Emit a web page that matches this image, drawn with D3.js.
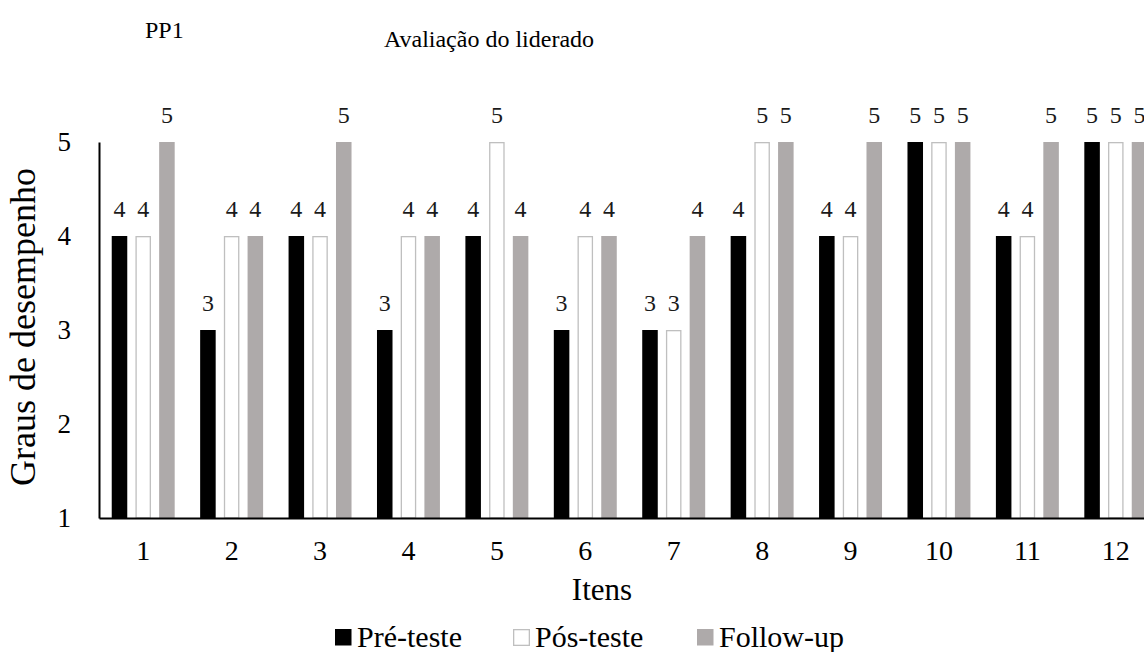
<!DOCTYPE html>
<html>
<head>
<meta charset="utf-8">
<script src="https://cdn.jsdelivr.net/npm/d3@7"></script>
<style>
  html, body { margin: 0; padding: 0; background: #fff; }
  svg { display: block; }
  svg text { font-family: "Liberation Serif", serif; }
</style>
</head>
<body>
<svg id="chart" width="1144" height="652" font-family="Liberation Serif"></svg>
<script>
// Item numbers along the x axis
const items = ["1", "2", "3", "4", "5", "6", "7", "8", "9", "10", "11", "12"];
// Scores per phase
const preTeste  = [4, 3, 4, 3, 4, 3, 3, 4, 4, 5, 4, 5];
const posTeste  = [4, 4, 4, 4, 5, 4, 3, 5, 4, 5, 4, 5];
const followUp  = [5, 4, 5, 4, 4, 4, 4, 5, 5, 5, 5, 5];
const seriesNames = ["Pré-teste", "Pós-teste", "Follow-up"];
const yTicks = [1, 2, 3, 4, 5];

const series = [
  { name: seriesNames[0], values: preTeste, fill: "#000000", stroke: "none" },
  { name: seriesNames[1], values: posTeste, fill: "#ffffff", stroke: "#bfbfbf" },
  { name: seriesNames[2], values: followUp, fill: "#aeaaaa", stroke: "none" }
];

const FONT = "Liberation Serif";
const svg = d3.select("#chart");
const plot = { left: 99, right: 1160, top: 142, bottom: 518 };

const x = d3.scaleBand().domain(items).range([plot.left, plot.right])
  .paddingInner(0.288).paddingOuter(0.144);
const xs = d3.scaleBand().domain(seriesNames).range([0, x.bandwidth()]).paddingInner(0.345);
const y = d3.scaleLinear().domain([1, 5]).range([plot.bottom, plot.top]);

// Bars
const groups = svg.append("g").selectAll("g")
  .data(series).join("g");

groups.selectAll("rect")
  .data(s => s.values.map((v, i) => ({ v, item: items[i], s })))
  .join("rect")
  .attr("x", d => x(d.item) + xs(d.s.name) + (d.s.stroke !== "none" ? 0.65 : 0))
  .attr("y", d => y(d.v) + (d.s.stroke !== "none" ? 0.65 : 0))
  .attr("width", d => xs.bandwidth() - (d.s.stroke !== "none" ? 1.3 : 0))
  .attr("height", d => y(1) - y(d.v) - (d.s.stroke !== "none" ? 0.65 : 0))
  .attr("fill", d => d.s.fill)
  .attr("stroke", d => d.s.stroke)
  .attr("stroke-width", 1.3);

// Value labels above bars
groups.selectAll("text")
  .data(s => s.values.map((v, i) => ({ v, item: items[i], s })))
  .join("text")
  .attr("x", d => x(d.item) + xs(d.s.name) + xs.bandwidth() / 2)
  .attr("y", d => y(d.v) - 19)
  .attr("text-anchor", "middle")
  .attr("font-family", FONT)
  .attr("font-size", 24)
  .attr("fill", "#1a1a1a")
  .text(d => d.v);

// Y axis
const yAxis = d3.axisLeft(y).tickValues(yTicks).tickSize(0).tickPadding(28).tickFormat(d3.format("d"));
const gy = svg.append("g").attr("transform", `translate(${plot.left},0)`).call(yAxis);
gy.attr("font-family", FONT);
gy.select(".domain").attr("stroke", "#000").attr("stroke-width", 2);
gy.selectAll("text").attr("font-size", 27).attr("font-family", FONT).attr("fill", "#000");

// X axis
const xAxis = d3.axisBottom(x).tickSize(0).tickPadding(22);
const gx = svg.append("g").attr("transform", `translate(0,${plot.bottom})`).call(xAxis);
gx.attr("font-family", FONT);
gx.select(".domain").attr("stroke", "#000").attr("stroke-width", 2);
gx.selectAll("text").attr("font-size", 28).attr("font-family", FONT).attr("fill", "#000");

// Titles
svg.append("text").attr("x", 145).attr("y", 38).attr("font-family", FONT)
  .attr("font-size", 24).text("PP1");
svg.append("text").attr("x", 489).attr("y", 47).attr("text-anchor", "middle")
  .attr("font-family", FONT).attr("font-size", 24).text("Avaliação do liderado");
svg.append("text").attr("x", 602).attr("y", 600).attr("text-anchor", "middle")
  .attr("font-family", FONT).attr("font-size", 31).text("Itens");
svg.append("text")
  .attr("transform", "translate(35,327) rotate(-90)")
  .attr("text-anchor", "middle")
  .attr("font-family", FONT)
  .attr("font-size", 36)
  .text("Graus de desempenho");

// Legend
const legendPos = [335, 513, 697];
const legend = svg.append("g").selectAll("g").data(series).join("g")
  .attr("transform", (d, i) => `translate(${legendPos[i]},629)`);
legend.append("rect")
  .attr("x", d => d.stroke !== "none" ? 0.65 : 0)
  .attr("y", d => d.stroke !== "none" ? 0.65 : 0)
  .attr("width", d => d.stroke !== "none" ? 15.7 : 16.5)
  .attr("height", d => d.stroke !== "none" ? 15.7 : 16.5)
  .attr("fill", d => d.fill)
  .attr("stroke", d => d.stroke)
  .attr("stroke-width", 1.3);
legend.append("text")
  .attr("x", 22).attr("y", 17.5)
  .attr("font-family", FONT)
  .attr("font-size", 30)
  .text(d => d.name);
</script>
</body>
</html>
